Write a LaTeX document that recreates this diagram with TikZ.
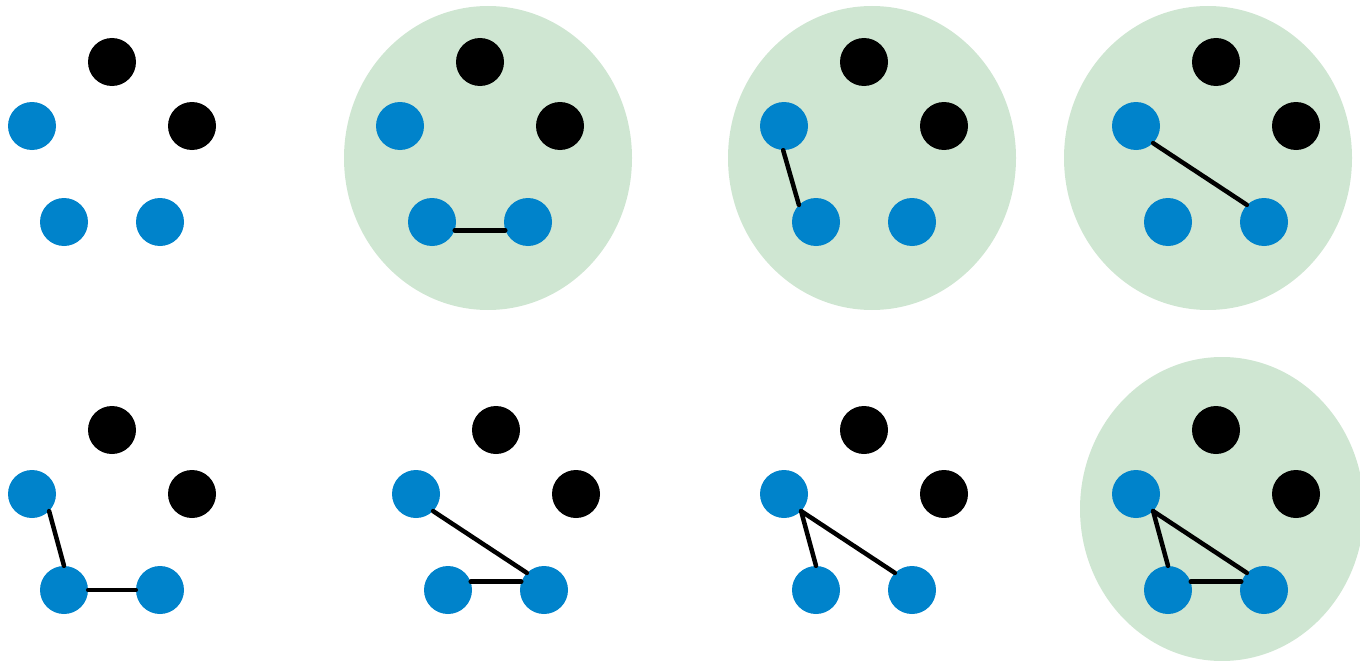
\documentclass[tikz,border=0pt]{standalone}
\definecolor{dotblue}{HTML}{0083CB}
\definecolor{blobgreen}{HTML}{CFE6D2}
\tikzset{
  bdot/.style={circle,fill=dotblue,inner sep=0pt,minimum size=48pt},
  kdot/.style={circle,fill=black,inner sep=0pt,minimum size=48pt},
  blob/.style={fill=blobgreen},
  edge/.style={line width=4.5pt,line cap=round,draw=black}
}
\newcommand\fivedots[3]{%
  \node[kdot] (#1t) at (112+#2,62+#3) {};
  \node[kdot] (#1r) at (192+#2,126+#3) {};
  \node[bdot] (#1l) at (32+#2,126+#3) {};
  \node[bdot] (#1a) at (64+#2,222+#3) {};
  \node[bdot] (#1b) at (160+#2,222+#3) {};
}
\begin{document}
\begin{tikzpicture}[x=1pt,y=-1pt]
\useasboundingbox (0,0) rectangle (1360,661);
\begin{scope}
\clip (0,0) rectangle (1360,661);
\fill[blob] (488,158) ellipse [x radius=144, y radius=152];
\fill[blob] (872,158) ellipse [x radius=144, y radius=152];
\fill[blob] (1208,158) ellipse [x radius=144, y radius=152];
\fill[blob] (1222,509) ellipse [x radius=142, y radius=152];
\end{scope}
\fivedots{A}{0}{0}
\fivedots{B}{368}{0}
\fivedots{C}{752}{0}
\fivedots{D}{1104}{0}
\fivedots{E}{0}{368}
\fivedots{F}{384}{368}
\fivedots{G}{752}{368}
\fivedots{H}{1104}{368}
% group B
\draw[edge] (Ba.-20) -- (Bb.200);
% group C
\draw[edge] (Cl.-92) -- (Ca.135);
% group D
\draw[edge] (Dl.-45) -- (Db.135);
% group E
\draw[edge] (El.-45) -- (Ea.90);
\draw[edge] (Ea.0) -- (Eb.180);
% group F
\draw[edge] (Fl.-45) -- (Fb.135);
\draw[edge] (Fa.20) -- (Fb.160);
% group G
\draw[edge] (Gl.-45) -- (Ga.90);
\draw[edge] (Gl.-45) -- (Gb.135);
% group H
\draw[edge] (Hl.-45) -- (Ha.90);
\draw[edge] (Hl.-45) -- (Hb.135);
\draw[edge] (Ha.20) -- (Hb.160);
\end{tikzpicture}
\end{document}
